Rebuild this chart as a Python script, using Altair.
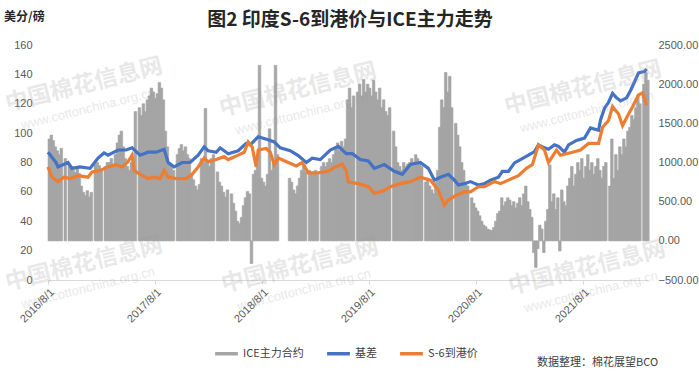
import altair as alt
import numpy as np
import pandas as pd

# ---------------- data ----------------
title_text = "图2 印度S-6到港价与ICE主力走势"
unit_text = "美分/磅"
source_text = "数据整理：棉花展望BCO"
watermark_cn = "中国棉花信息网"
watermark_url = "www.cottonchina.org.cn"
series_names = ["ICE主力合约", "基差", "S-6到港价"]
series_colors = ["#A5A5A5", "#4472C4", "#ED7D31"]
year_ticks = [2016, 2017, 2018, 2019, 2020, 2021]

# grey bars (right axis), one value per observation (~weekly), None = missing
bar_values = [
    1300, 1350, 1280, 1200, 1150, 1100, 1180, None, 1050, None,
    980, 950, 900, 870, 930, 860, 700, 620, 580, 640,
    560, 620, None, 980, 1000, 960, 900, None, 950, 1000,
    1000, 1050, 980, 1100, 1250, 1350, 1400, 1200, 1050, 950,
    900, 1000, 950, 1650, None, 1700, 1600, 1750, 1650, 1800,
    1850, 1950, 1900, 1820, 1880, 2020, 1950, 1800, 1400, 1200,
    1000, 950, 900, None, 1100, 1180, 1230, 1150, 1200, 1100,
    1050, 850, 780, 700, 650, 720, 1050, 1000, 1690, 1000,
    950, 1050, 1100, None, 880, 750, 700, 620, 560, 650,
    None, 600, 480, 380, 250, 220, 300, 450, 550, 630,
    600, -290, 850, 900, 950, 2240, 800, 750, 700, 850,
    1430, 900, 1000, 2240, 1100, None, None, None, None, None,
    800, 750, 650, 600, 700, 800, 900, 950, 880, None,
    900, 850, 880, 900, 850, None, 950, 1000, 950, 1000,
    1050, 1000, 1100, 1200, 1250, 1150, 1270, 1200, 1300, 1800,
    1950, 1700, 1850, None, 1900, 2000, 1850, 2060, 1900, 2000,
    1950, 1850, 2050, 1900, 1800, 1950, 1700, 1800, 1650, 1600,
    1700, None, 1400, 1200, 1000, 950, 900, 1000, 950, 980,
    1000, 1050, 1000, 1100, 1050, 1000, 950, None, 750, 800,
    700, 650, 600, 750, 900, 1450, 1800, 1700, 2150, 1900,
    2100, 1700, None, 1500, 1350, 1200, 1000, 900, 750, 700,
    None, 550, 480, 420, 380, 320, 250, 200, 180, 150,
    140, 130, 170, 250, 350, 380, 550, 450, 500, 550,
    520, 450, 500, 420, 480, 550, 450, 600, 700, 500,
    400, 300, -150, -340, -100, 200, 150, -150, 250, 400,
    970, 500, 600, 400, 550, -130, 650, 500, 450, 700,
    800, 950, 700, 850, 1000, 900, 1050, 800, 950, 1100,
    900, 1000, 850, 950, 1050, 900, 800, 950, 1000, None,
    700, 1300, 800, 1100, 900, 1200, 1100, 1300, 1200, 1400,
    1450, 1600, 1550, 1700, 1860, 1750, None, 2000, 2150, 2050,
]

# blue line (left axis): observation number -> value
blue_obs = [0, 4, 5, 10, 12, 16, 21, 25, 28, 30, 35, 39, 42, 46, 50, 54, 58, 60, 63, 67,
            71, 75, 78, 80, 84, 86, 90, 95, 99, 101, 105, 110, 113, 116, 121, 125, 129, 132, 136, 141,
            145, 149, 152, 156, 160, 163, 168, 173, 177, 181, 186, 190, 193, 196, 200, 203, 205, 208, 211, 215,
            218, 221, 225, 227, 230, 233, 236, 240, 243, 245, 247, 250, 253, 255, 258, 260, 264, 268, 271, 275,
            276, 278, 280, 282, 284, 286, 289, 291, 293, 295, 298, 299]
blue_values = [87, 80, 77, 80, 76, 77, 76, 83, 86.5, 85, 88.5, 88.5, 90, 85, 87, 87, 89, 80, 77, 80,
               80, 85, 90.6, 88, 87, 90, 86, 88, 93, 92, 97.5, 95.5, 94, 90, 88, 84.7, 80, 83, 82, 88.5,
               91, 86, 86, 82, 81, 76, 78.6, 74, 72, 78.6, 80, 76, 68, 70, 72, 68, 64.7, 65.6, 67, 64.7,
               65.6, 68, 70, 74, 74, 79.7, 82, 85, 87.4, 92, 90.6, 89, 92, 91, 87, 92, 95, 96.6, 103.5, 102,
               109, 117, 121, 127, 124, 122, 124, 129, 135, 141, 142, 143.7]

# orange line (left axis)
orange_obs = [0, 2, 5, 8, 11, 15, 20, 22, 26, 30, 34, 37, 40, 42, 43, 46, 50, 53, 56, 58,
              60, 64, 69, 72, 75, 78, 80, 84, 88, 90, 95, 98, 100, 102, 104, 105, 109, 111, 113, 115,
              120, 124, 127, 130, 135, 140, 143, 147, 149, 150, 155, 160, 163, 168, 171, 176, 181, 186, 191, 195,
              198, 200, 204, 208, 211, 215, 218, 223, 226, 230, 235, 239, 242, 245, 248, 250, 254, 256, 259, 262,
              266, 270, 275, 277, 280, 282, 285, 287, 290, 292, 295, 297, 299]
orange_values = [77, 70, 67, 70, 69, 71, 70, 73.6, 74.6, 77, 78.5, 77, 80.6, 85, 74.6, 72, 69, 70, 69, 74.6,
                 70, 69, 69, 72, 77, 83, 80.6, 82, 84, 82, 85, 87, 94, 90.6, 77, 88.5, 89.5, 87, 78.6, 83,
                 80, 77.7, 80, 73, 73, 74, 76.6, 79, 74, 66.7, 65.6, 63.5, 59, 61, 63.5, 65.6, 67, 70, 68, 61,
                 51, 54.5, 57.7, 60, 60, 63.5, 63.5, 67, 65.6, 68, 71, 76, 78.6, 92, 88.5, 80, 88.5, 85, 86, 87,
                 88.5, 93, 93, 104, 108.6, 118, 113, 105, 113, 118, 126, 127.5, 119]

# ---------------- frames ----------------
step_hours = 164
grid = pd.Timestamp("2016-08-01") + pd.to_timedelta(np.arange(len(bar_values)) * step_hours, unit="h")
bars_df = pd.DataFrame({
    "date": grid,
    "date_end": grid + pd.Timedelta(hours=step_hours * 1.3),
    "value": bar_values,
})
lines_df = pd.concat([
    pd.DataFrame({"date": grid[blue_obs], "value": blue_values, "series": series_names[1]}),
    pd.DataFrame({"date": grid[orange_obs], "value": orange_values, "series": series_names[2]}),
], ignore_index=True)

x_scale = alt.Scale(domain=[alt.DateTime(year=2016, month=8, date=1),
                            alt.DateTime(year=2022, month=3, date=11)], nice=False)
x_axis = alt.Axis(
    values=[alt.DateTime(year=y, month=8, date=1) for y in year_ticks],
    format="%Y/%-m/%-d", labelAngle=-45, tickSize=4, tickColor="#D9D9D9",
    domainColor="#D9D9D9", grid=False, title=None, labelPadding=2,
    labelFlush=False, labelOverlap=False, labelFontSize=11,
)

bars = alt.Chart(bars_df).mark_bar(
    color=series_colors[0], stroke=series_colors[0], strokeWidth=0.6
).encode(
    x=alt.X("date:T", scale=x_scale, axis=x_axis),
    x2="date_end:T",
    y=alt.Y("value:Q",
            scale=alt.Scale(domain=[-500, 2500], nice=False, zero=False),
            axis=alt.Axis(orient="right", values=list(range(-500, 2501, 500)), format=".2f",
                          grid=False, domain=False, ticks=False, labelPadding=10, title=None)),
    y2=alt.datum(0),
)

lines = alt.Chart(lines_df).mark_line(strokeWidth=3.2).encode(
    x=alt.X("date:T", scale=x_scale, axis=x_axis),
    y=alt.Y("value:Q",
            scale=alt.Scale(domain=[0, 160], nice=False),
            axis=alt.Axis(orient="left", values=list(range(0, 161, 20)), format="d",
                          grid=False, domain=False, ticks=False, labelPadding=16, title=None)),
    color=alt.Color("series:N",
                    scale=alt.Scale(domain=series_names, range=series_colors),
                    sort=series_names,
                    legend=alt.Legend(orient="none", legendX=165, legendY=295,
                                      direction="horizontal", title=None,
                                      symbolType="stroke", symbolStrokeWidth=3.5, symbolSize=520,
                                      labelFont="Noto Sans CJK SC", labelFontSize=11,
                                      labelColor="#404040", labelOffset=3, columnPadding=16,
                                      padding=0)),
)


def text_layer(txt, x, y, **kw):
    return alt.Chart(pd.DataFrame({"t": [txt]})).mark_text(**kw).encode(
        text="t:N", x=alt.value(x), y=alt.value(y))


title_layer = text_layer(title_text, 302, -25, font="Noto Sans CJK SC", fontSize=19,
                         fontWeight="bold", color="#262626", align="center", baseline="middle")
unit_layer = text_layer(unit_text, -44, -28, font="Noto Sans CJK SC", fontSize=12,
                        fontWeight="bold", color="#262626", align="left", baseline="middle")
source_layer = text_layer(source_text, 489, 318, font="Noto Sans CJK SC", fontSize=11,
                          color="#404040", align="left", baseline="middle")

wm_style_cn = dict(font="Noto Sans CJK SC", fontSize=23, fontWeight="bold", color="#9a9a9a",
                   opacity=0.22, angle=346, align="center", baseline="middle")
wm_style_url = dict(font="Liberation Sans", fontSize=13, color="#9a9a9a",
                    opacity=0.22, angle=346, align="center", baseline="middle")
watermarks = []
for cx, cy in [(36, 40), (250, 45), (535, 43), (36, 219), (252, 221), (539, 223)]:
    watermarks.append(text_layer(watermark_cn, cx, cy, **wm_style_cn))
    watermarks.append(text_layer(watermark_url, cx + 4, cy + 24, **wm_style_url))

chart = alt.layer(bars, lines, *watermarks, title_layer, unit_layer, source_layer).resolve_scale(
    y="independent"
).properties(
    width=600, height=235,
    padding={"left": 48, "top": 45, "right": 51, "bottom": 97},
    autosize=alt.AutoSizeParams(type="none"),
    background="white",
).configure_view(stroke=None).configure_axis(
    labelColor="#595959", labelFont="Liberation Sans", labelFontSize=11,
)

chart.save("out.html", embed_options={"renderer": "svg", "actions": False})
